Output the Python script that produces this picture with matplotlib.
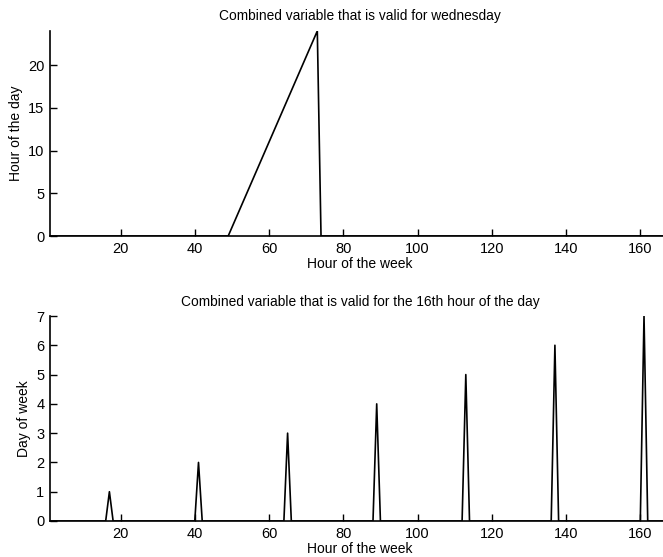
import matplotlib
matplotlib.use("Agg")
import matplotlib.pyplot as plt
import numpy as np

plt.rcParams['font.family'] = ['Liberation Sans', 'DejaVu Sans']

# hour of the week, 1..168
hours = np.arange(1, 169)

# wednesday: hour of the day is non-zero from hour 50 to 73 of the week
wed_start = 50
wed_hour_of_day = [1, 2, 3, 4, 5, 6, 7, 8, 9, 10, 11, 12,
                   13, 14, 15, 16, 17, 18, 19, 20, 21, 22, 23, 24]

# 16th hour of the day: spikes at these hours of the week
spike_hours = [17, 41, 65, 89, 113, 137, 161]
spike_days = [1, 2, 3, 4, 5, 6, 7]

wed_series = np.zeros(len(hours))
for i, v in enumerate(wed_hour_of_day):
    wed_series[wed_start - 1 + i] = v

day_series = np.zeros(len(hours))
for h, d in zip(spike_hours, spike_days):
    day_series[h - 1] = d

fig = plt.figure(figsize=(6.63, 5.57), dpi=100)
W, H = 663, 557
ax_w = (670 - 50) / W
ax1 = fig.add_axes([50 / W, 1 - 236 / H, ax_w, (236 - 31) / H])
ax2 = fig.add_axes([50 / W, 1 - 521 / H, ax_w, (521 - 316) / H])

ax1.plot(hours, wed_series, color='black', lw=1.2)
ax1.set_xlim(1, 168)
ax1.set_ylim(0, 24)
ax1.set_yticks([0, 5, 10, 15, 20])
ax1.set_title('Combined variable that is valid for wednesday', fontsize=9.9, pad=8)
ax1.set_ylabel('Hour of the day', fontsize=10)
ax1.set_xlabel('Hour of the week', fontsize=10, labelpad=1)

ax2.plot(hours, day_series, color='black', lw=1.2)
ax2.set_xlim(1, 168)
ax2.set_ylim(0, 7)
ax2.set_yticks(range(8))
ax2.set_title('Combined variable that is valid for the 16th hour of the day', fontsize=9.9, pad=7)
ax2.set_ylabel('Day of week', fontsize=10)
ax2.set_xlabel('Hour of the week', fontsize=10, labelpad=1)

for ax in (ax1, ax2):
    ax.set_xticks([20, 40, 60, 80, 100, 120, 140, 160])
    ax.spines['top'].set_visible(False)
    ax.spines['right'].set_visible(False)
    ax.spines['left'].set_linewidth(1.2)
    ax.spines['bottom'].set_linewidth(1.2)
    ax.tick_params(direction='in', length=5, width=1, labelsize=10.5, pad=4)

fig.savefig('out.png', dpi=100)
